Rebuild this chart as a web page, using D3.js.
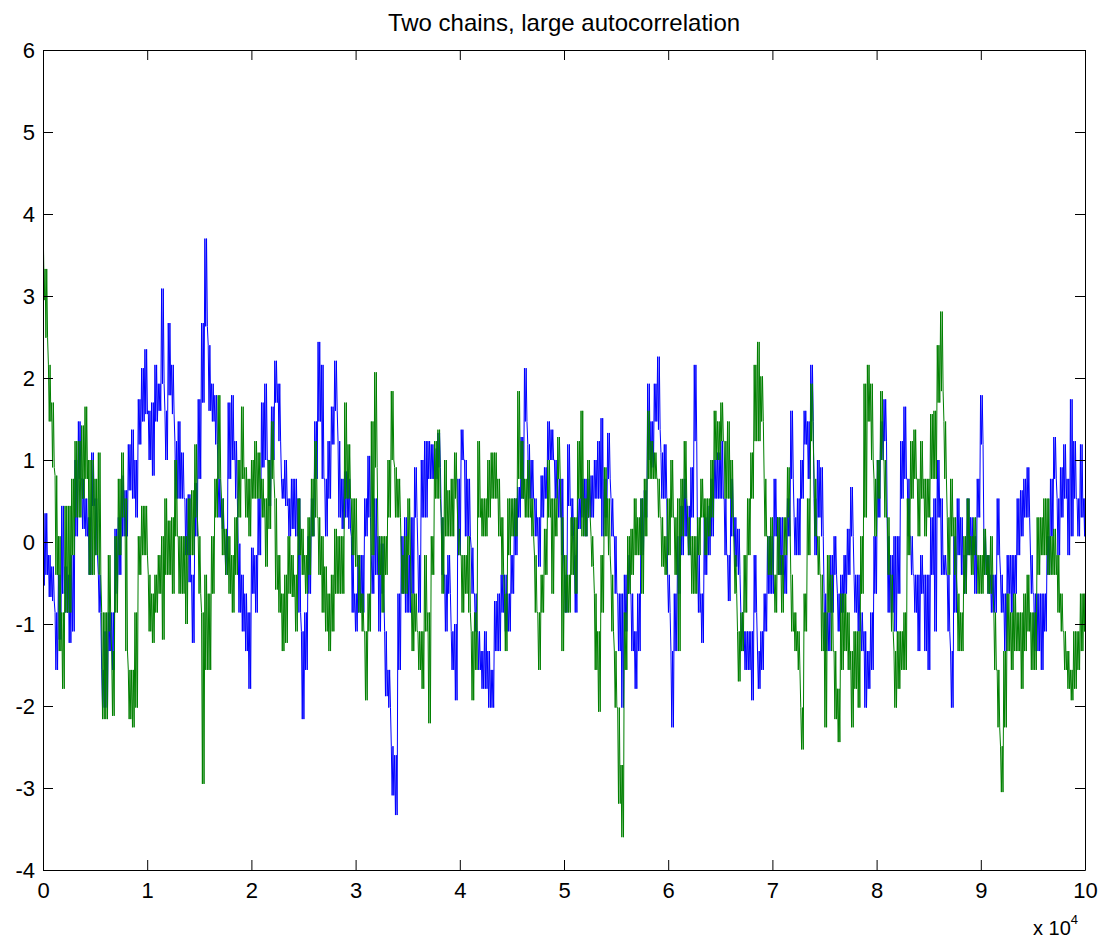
<!DOCTYPE html>
<html>
<head>
<meta charset="utf-8">
<script src="https://cdn.jsdelivr.net/npm/d3@7"></script>
<style>
  html, body { margin: 0; padding: 0; background: #ffffff; }
  svg { display: block; }
  .tick text { font-family: "Liberation Sans", Arial, Helvetica, sans-serif; }
</style>
</head>
<body>
<svg id="chart" width="1104" height="943"></svg>
<script>
// ---------------- data ----------------
const chartTitle = "Two chains, large autocorrelation";
const xTicks = [0, 1, 2, 3, 4, 5, 6, 7, 8, 9, 10];
const xTickLabels = ["0", "1", "2", "3", "4", "5", "6", "7", "8", "9", "10"];
const yTicks = [-4, -3, -2, -1, 0, 1, 2, 3, 4, 5, 6];
const yTickLabels = ["-4", "-3", "-2", "-1", "0", "1", "2", "3", "4", "5", "6"];
const xDomain = [0, 10];      // in units of 10^4 iterations
const yDomain = [-4, 6];
const exponentLabel = "x 10";
const exponentPower = "4";

// Each entry: [local high, local low] of the chain over one narrow slice of iterations,
// slices evenly spaced from 0 to 10 (x 10^4).
const blueChain = [
  [0.44,-0.53],[0.35,-0.40],[-0.16,-0.67],[-0.30,-0.72],[-0.86,-1.56],[-0.40,-1.19],[0.44,-0.63],[-0.30,-0.86],[-0.40,-1.23],[-0.16,-1.09],
  [1.00,0.07],[1.47,0.77],[0.77,0.16],[0.53,0.07],[0.30,-0.40],[1.09,0.44],[0.53,-0.16],[-0.40,-0.86],[-1.56,-2.02],[-1.09,-2.02],
  [-0.86,-1.33],[-0.86,-1.56],[0.16,-0.63],[0.30,-0.40],[0.81,0.07],[0.63,0.07],[1.19,0.63],[1.37,0.53],[1.00,0.30],[1.74,1.19],
  [2.12,1.47],[2.35,1.56],[1.60,1.00],[1.70,0.81],[2.16,1.47],[1.93,1.60],[3.09,1.93],[1.60,1.00],[2.67,1.79],
  [2.16,1.56],[1.23,0.53],[1.47,0.53],[1.09,0.53],[0.53,-0.16],[0.58,-0.49],[-0.40,-1.23],[0.72,0.07],[1.74,0.77],[2.67,1.70],
  [3.70,2.63],[2.40,1.60],[1.93,1.47],[1.79,1.19],[0.77,0.30],[0.53,0.16],[0.07,-0.40],[1.70,0.77],[1.79,1.00],[1.23,0.53],
  [-0.02,-0.86],[-0.40,-1.09],[-0.63,-1.33],[-0.86,-1.79],[-0.07,-0.63],[-0.16,-0.86],[0.53,-0.16],[1.70,0.91],[1.93,1.00],[1.00,0.44],
  [1.65,1.00],[2.21,1.70],[1.93,1.23],[0.77,0.53],[1.00,0.44],[0.53,0.07],[0.77,0.16],[0.77,0.07],[0.53,-0.86],
  [-1.09,-2.16],[-0.86,-1.56],[0.07,-0.63],[0.53,0.07],[1.47,0.77],[2.44,1.47],[2.16,0.77],[0.77,0.07],[1.23,0.53],[1.65,1.19],
  [2.21,1.60],[1.23,0.30],[0.77,0.16],[0.86,0.30],[0.77,0.16],[0.07,-0.86],[-0.63,-1.09],[-0.16,-0.86],[-0.16,-0.86],[0.53,0.07],
  [1.05,0.30],[-0.16,-0.63],[0.53,-0.40],[0.07,-1.09],[-0.02,-0.63],[-1.09,-1.88],[-1.56,-2.02],[-2.49,-3.09],[-2.60,-3.33],[-0.63,-1.56],
  [0.07,-0.63],[0.30,-0.86],[-0.16,-0.86],[0.30,-0.63],[0.91,0.30],[-0.16,-0.86],[1.00,0.30],[1.23,0.30],[1.23,0.77],
  [1.19,0.77],[1.14,0.77],[1.33,0.91],[0.30,-0.40],[-0.40,-1.09],[-0.16,-0.63],[-1.09,-1.56],[-1.00,-1.93],[0.77,-0.16],[1.37,1.00],
  [1.00,0.07],[0.77,0.07],[-0.07,-0.63],[-0.63,-1.09],[-1.09,-1.56],[-1.33,-1.79],[-1.09,-1.79],[-1.33,-2.02],[-1.56,-2.02],[-0.72,-1.33],
  [-0.63,-1.33],[-0.40,-0.86],[-0.40,-1.09],[-0.63,-1.09],[-0.16,-0.63],[0.53,-0.16],[0.67,0.30],[1.28,0.53],[2.12,1.47],[1.19,0.53],
  [1.00,0.53],[0.53,0.07],[0.30,-0.30],[0.81,0.30],[0.91,0.53],[1.47,1.00],[1.37,1.00],[1.00,0.53],[0.77,0.30],
  [0.77,-0.16],[-0.40,-0.86],[1.19,0.44],[0.53,0.07],[-0.16,-0.86],[0.53,0.16],[0.77,0.30],[0.77,0.07],[0.77,0.30],[0.81,0.30],
  [1.00,0.53],[1.23,0.53],[1.51,0.07],[0.77,0.30],[1.33,0.77],[0.53,0.07],[0.07,-0.63],[-0.63,-1.33],[-0.63,-2.02],[-0.40,-1.09],
  [-0.16,-0.63],[-0.63,-1.33],[-1.09,-1.79],[-0.63,-1.33],[0.53,-0.16],[0.63,0.30],[1.93,1.00],[1.47,0.91],[1.93,1.47],[2.26,1.37],
  [1.09,0.53],[1.19,0.53],[-0.40,-0.86],[-1.33,-2.26],[-0.63,-1.33],[0.07,-0.63],[0.44,-0.16],[0.77,0.07],[0.44,-0.16],
  [0.91,0.30],[2.16,1.23],[-0.16,-0.86],[-0.63,-1.23],[0.30,-0.40],[0.44,-0.16],[0.77,0.07],[1.00,0.53],[1.09,0.53],[1.23,0.53],
  [0.53,-0.16],[-0.16,-0.72],[0.77,0.07],[0.30,-0.30],[0.16,-0.40],[-0.86,-1.33],[-1.09,-1.56],[-1.09,-1.56],[-1.09,-1.93],[-0.16,-0.86],
  [-1.33,-1.79],[-1.09,-1.56],[-0.63,-1.09],[0.07,-0.63],[0.07,-0.63],[0.77,0.07],[0.30,-0.40],[0.30,-0.40],[-0.16,-0.63],[0.53,0.07],
  [1.60,0.77],[0.30,-0.16],[0.53,-0.16],[1.00,0.53],[1.60,1.19],[1.47,0.77],[2.16,1.47],[0.53,-0.16],[1.00,0.30],
  [0.91,0.07],[-0.63,-1.33],[-0.86,-1.33],[-0.16,-0.86],[0.07,-0.40],[-0.63,-1.09],[-0.40,-0.86],[-0.16,-0.63],[0.16,-0.40],[0.67,0.07],
  [-0.40,-0.86],[-0.40,-1.09],[-0.86,-1.33],[-1.09,-2.02],[-1.33,-1.79],[-0.86,-1.56],[0.07,-0.63],[1.00,0.30],[1.47,1.00],[1.74,1.23],
  [0.07,-0.86],[-0.16,-0.86],[0.07,-1.09],[0.07,-0.63],[1.23,0.53],[1.65,0.77],[0.77,0.07],[0.07,-0.40],[-0.40,-0.86],[-0.40,-1.33],
  [-0.16,-0.63],[-0.40,-1.33],[-0.40,-1.56],[0.30,-0.40],[0.53,-1.09],[1.00,0.30],[0.53,-0.40],[-0.16,-0.40],[-0.40,-1.09],
  [-1.33,-2.02],[0.07,-0.86],[0.53,-0.16],[0.30,-0.40],[-0.16,-0.63],[0.53,-0.16],[0.30,-0.16],[0.07,-0.63],[0.77,0.30],[1.79,1.19],
  [0.07,-0.40],[-0.16,-0.63],[-0.40,-0.86],[-0.40,-0.86],[0.53,-0.16],[-0.40,-0.86],[-0.63,-1.33],[-0.16,-0.63],[-0.16,-0.86],[-0.16,-0.63],
  [0.53,-0.16],[0.63,0.07],[0.77,0.30],[0.91,0.30],[-0.16,-0.63],[-0.63,-1.33],[-0.63,-1.33],[-0.63,-1.56],[-0.63,-1.09],[0.07,-0.40],
  [0.77,0.07],[1.28,0.77],[0.53,-0.16],[0.91,0.30],[1.19,0.53],[0.77,-0.16],[1.74,0.07],[1.23,0.53],[0.53,0.07],[1.19,0.30],[0.53,0.07]
];

const greenChain = [
  [3.65,2.95],[3.33,2.49],[2.16,1.47],[1.70,0.91],[0.81,-0.40],[0.07,-1.33],[-0.86,-1.79],[0.44,-0.86],[0.44,-0.86],[0.77,-0.16],
  [1.23,0.30],[1.23,0.30],[1.42,0.53],[1.65,0.77],[1.00,-0.40],[1.00,-0.40],[0.77,-0.16],[1.09,-0.40],[-0.86,-2.16],[-0.86,-2.16],
  [-0.16,-1.09],[-1.33,-2.12],[0.07,-0.86],[0.77,-0.16],[1.09,0.30],[0.53,-1.33],[-1.56,-2.16],[-1.56,-2.26],[-0.86,-2.02],[0.07,-0.40],
  [0.44,-0.16],[0.44,-0.16],[-0.40,-1.09],[-0.63,-1.23],[-0.40,-0.86],[-0.16,-0.63],[0.07,-1.19],[0.53,-0.40],[0.26,-0.40],
  [0.30,-0.63],[1.00,0.07],[0.07,-0.63],[0.07,-0.63],[0.07,-1.00],[0.53,-0.16],[0.63,-0.16],[1.19,0.30],[0.07,-0.63],[-0.86,-2.95],
  [-0.40,-1.56],[-0.63,-1.56],[0.07,-0.63],[0.77,0.30],[1.79,0.77],[0.53,-0.16],[0.16,-0.40],[0.07,-0.63],[-0.16,-0.86],[0.30,-0.40],
  [1.00,0.30],[1.65,0.77],[0.91,0.30],[0.77,0.07],[1.00,0.53],[1.23,0.53],[1.09,0.53],[0.77,0.30],[0.53,-0.30],[1.00,0.16],
  [1.47,0.77],[0.53,-0.58],[-0.16,-0.86],[-0.63,-1.33],[-0.40,-1.23],[0.07,-0.63],[-0.16,-0.67],[-0.40,-1.09],[0.53,-0.16],
  [0.16,-0.40],[-0.16,-0.63],[0.30,-0.40],[0.77,0.07],[1.23,0.30],[0.30,-0.40],[0.07,-0.86],[-0.30,-1.09],[-0.63,-1.33],[-0.40,-1.09],
  [0.16,-0.63],[0.07,-0.63],[0.07,-0.63],[1.70,0.53],[1.19,0.53],[0.53,-0.16],[0.53,-0.30],[-0.16,-0.86],[-0.63,-1.09],[-1.09,-1.93],
  [-0.63,-1.09],[1.47,-0.16],[2.07,0.91],[0.07,-0.40],[0.07,-0.86],[0.07,-0.40],[1.00,0.30],[1.84,1.00],[0.91,0.30],[0.77,0.30],
  [-0.16,-0.63],[0.07,-0.63],[0.53,-0.16],[-0.63,-1.33],[-0.63,-1.09],[-1.09,-1.56],[-1.09,-1.79],[-0.16,-1.09],[-0.86,-2.21],
  [0.07,-0.40],[1.23,0.53],[1.37,0.53],[0.30,-0.63],[1.00,0.07],[0.63,0.07],[0.77,0.07],[1.09,0.53],[0.16,-0.16],[-0.16,-0.86],
  [-0.16,-0.63],[0.07,-0.86],[-1.09,-1.93],[-0.86,-1.56],[1.23,0.30],[0.53,0.07],[0.53,0.07],[1.00,0.30],[1.09,0.53],[1.09,0.53],
  [0.77,0.07],[0.30,-0.40],[-0.63,-1.33],[0.53,-0.16],[0.53,0.07],[0.53,0.07],[1.84,0.77],[1.23,0.53],[0.77,0.30],[1.00,0.30],
  [0.53,0.07],[-0.16,-0.86],[-0.86,-1.56],[-0.40,-0.86],[0.16,-0.40],[1.00,0.30],[0.53,-0.63],[0.53,0.07],[1.28,0.77],
  [0.30,-1.33],[-0.16,-0.86],[-0.40,-0.86],[0.30,-0.40],[0.30,-0.63],[1.23,0.53],[1.60,0.07],[0.53,0.07],[1.00,0.30],[0.07,-0.30],
  [-0.63,-1.56],[-1.09,-2.07],[-0.16,-0.86],[0.91,0.07],[0.53,-0.16],[-0.40,-1.09],[-1.33,-2.02],[-2.02,-3.19],[-2.72,-3.60],[-0.86,-1.56],
  [0.07,-0.63],[0.16,-0.40],[0.53,-0.16],[0.30,-0.16],[0.53,-0.63],[0.77,0.07],[1.60,0.77],[1.23,0.77],[1.09,0.77],[0.77,0.30],
  [0.30,-0.30],[0.07,-0.40],[0.53,-0.16],[1.00,0.30],[0.30,-0.40],[0.53,-1.33],[0.77,0.07],[1.23,0.53],[0.30,-0.16],
  [0.07,-0.63],[0.07,-0.63],[0.30,-0.16],[0.77,0.30],[0.53,-0.16],[0.53,0.07],[1.00,0.30],[1.60,1.00],[1.47,1.00],[1.70,1.23],
  [1.23,0.53],[1.47,0.53],[1.00,0.30],[-0.16,-0.63],[-1.09,-1.70],[-0.86,-1.33],[-0.16,-0.86],[0.53,-0.16],[1.09,0.53],[2.16,1.23],
  [2.44,1.23],[2.02,1.47],[0.77,0.07],[0.07,-0.40],[0.30,-0.40],[-0.40,-0.86],[0.30,-0.40],[-0.16,-0.86],[0.30,-0.16],[0.91,0.30],
  [-0.40,-1.09],[-0.86,-1.33],[-1.09,-1.56],[-2.02,-2.53],[-0.63,-1.09],[0.53,-0.16],[1.93,1.23],[0.77,0.07],[0.07,-0.40],
  [-0.40,-1.33],[-0.86,-2.26],[-0.16,-0.86],[-0.40,-1.33],[-1.33,-2.16],[-1.79,-2.44],[-0.63,-1.56],[-0.63,-1.33],[-0.86,-1.56],[-1.33,-2.26],
  [-1.09,-1.79],[-1.09,-2.02],[0.07,-0.63],[1.93,0.30],[2.16,1.47],[1.93,1.00],[0.77,0.07],[1.00,0.53],[1.84,1.00],[1.00,0.30],
  [0.30,-0.40],[-0.40,-1.09],[-1.33,-2.02],[-1.09,-1.79],[-1.09,-1.56],[-0.86,-1.56],[0.53,-0.16],[1.23,0.53],[1.37,0.77],[0.77,0.07],
  [1.23,0.53],[0.77,0.07],[0.77,0.30],[1.56,0.77],[1.60,0.77],[2.40,1.70],[2.81,1.84],[1.47,0.77],[0.30,-0.40],
  [0.77,0.07],[0.30,-0.40],[-0.63,-1.33],[-0.86,-1.33],[0.07,-0.63],[0.53,-0.16],[0.07,-0.40],[0.30,-0.16],[-0.16,-0.63],[-0.16,-0.63],
  [0.16,-0.40],[-0.16,-0.63],[0.07,-0.63],[-0.86,-1.56],[-1.56,-2.26],[-2.49,-3.05],[-1.33,-2.26],[-0.63,-1.33],[-0.86,-1.56],[-0.63,-1.33],
  [-0.86,-1.33],[-0.86,-1.79],[-0.63,-1.33],[-0.40,-1.09],[-0.86,-1.56],[-0.86,-1.56],[0.30,-0.40],[0.30,-0.16],[0.53,-0.16],[0.53,-0.40],
  [0.07,-0.40],[0.16,-0.40],[-0.16,-0.86],[-0.63,-1.09],[-1.09,-1.56],[-1.33,-1.79],[-1.56,-1.93],[-1.09,-1.79],[-1.09,-1.56],[-0.63,-1.33],[-0.63,-1.09]
];

const seriesColors = { blue: "#0000ff", green: "#008000" };

// ---------------- drawing ----------------
const svg = d3.select("#chart");
const plot = { left: 43, right: 1085, top: 50, bottom: 870 };

const x = d3.scaleLinear().domain(xDomain).range([plot.left, plot.right]);
const y = d3.scaleLinear().domain(yDomain).range([plot.bottom, plot.top]);

svg.append("rect").attr("width", 1104).attr("height", 943).attr("fill", "#ffffff");

svg.append("defs").append("clipPath").attr("id", "plotClip")
  .append("rect")
  .attr("x", plot.left).attr("y", plot.top)
  .attr("width", plot.right - plot.left).attr("height", plot.bottom - plot.top);

// each [high, low] slice is drawn as a dense back-and-forth trace between its extremes
function trace(pairs) {
  const n = pairs.length;
  const dt = (xDomain[1] - xDomain[0]) / (n - 1);
  const pts = [];
  pairs.forEach(([hi, lo], i) => {
    const t = xDomain[0] + i * dt;
    const c = (x0) => Math.min(xDomain[1], Math.max(xDomain[0], x0));
    pts.push([c(t - 0.375 * dt), hi]);
    pts.push([c(t - 0.125 * dt), lo]);
    pts.push([c(t + 0.125 * dt), hi]);
    pts.push([c(t + 0.375 * dt), lo]);
  });
  return pts;
}

const line = d3.line().x(d => x(d[0])).y(d => y(d[1]));

const g = svg.append("g").attr("clip-path", "url(#plotClip)");
g.append("path").datum(trace(blueChain))
  .attr("d", line).attr("fill", "none")
  .attr("stroke", seriesColors.blue).attr("stroke-width", 1).attr("stroke-linejoin", "miter");
g.append("path").datum(trace(greenChain))
  .attr("d", line).attr("fill", "none")
  .attr("stroke", seriesColors.green).attr("stroke-width", 1).attr("stroke-linejoin", "miter");

// axes (MATLAB style: box with inward ticks on all sides)
const fontFam = '"Liberation Sans", Arial, Helvetica, sans-serif';
function styleAxis(sel) {
  sel.selectAll("path.domain").attr("stroke", "#000").attr("stroke-width", 1);
  sel.selectAll(".tick line").attr("stroke", "#000").attr("stroke-width", 1);
  sel.selectAll(".tick text").attr("fill", "#000").style("font-size", "22px").style("font-family", fontFam);
}

const axB = svg.append("g").attr("transform", `translate(0,${plot.bottom})`)
  .call(d3.axisBottom(x).tickValues(xTicks).tickSize(-10).tickSizeOuter(0).tickPadding(12)
    .tickFormat((d, i) => xTickLabels[i]));
styleAxis(axB);

const axT = svg.append("g").attr("transform", `translate(0,${plot.top})`)
  .call(d3.axisTop(x).tickValues(xTicks).tickSize(-10).tickSizeOuter(0).tickFormat(""));
styleAxis(axT);

const axL = svg.append("g").attr("transform", `translate(${plot.left},0)`)
  .call(d3.axisLeft(y).tickValues(yTicks).tickSize(-10).tickSizeOuter(0).tickPadding(8)
    .tickFormat((d, i) => yTickLabels[i]));
styleAxis(axL);

const axR = svg.append("g").attr("transform", `translate(${plot.right},0)`)
  .call(d3.axisRight(y).tickValues(yTicks).tickSize(-10).tickSizeOuter(0).tickFormat(""));
styleAxis(axR);

// title
svg.append("text")
  .attr("x", (plot.left + plot.right) / 2).attr("y", 31)
  .attr("text-anchor", "middle")
  .style("font-family", fontFam).style("font-size", "24px").attr("fill", "#000")
  .text(chartTitle);

// x exponent label
const expT = svg.append("text")
  .attr("x", 1033).attr("y", 935)
  .style("font-family", fontFam).style("font-size", "20px").attr("fill", "#000");
expT.append("tspan").text(exponentLabel);
expT.append("tspan").attr("dy", -11).style("font-size", "13px").text(exponentPower);
</script>
</body>
</html>
